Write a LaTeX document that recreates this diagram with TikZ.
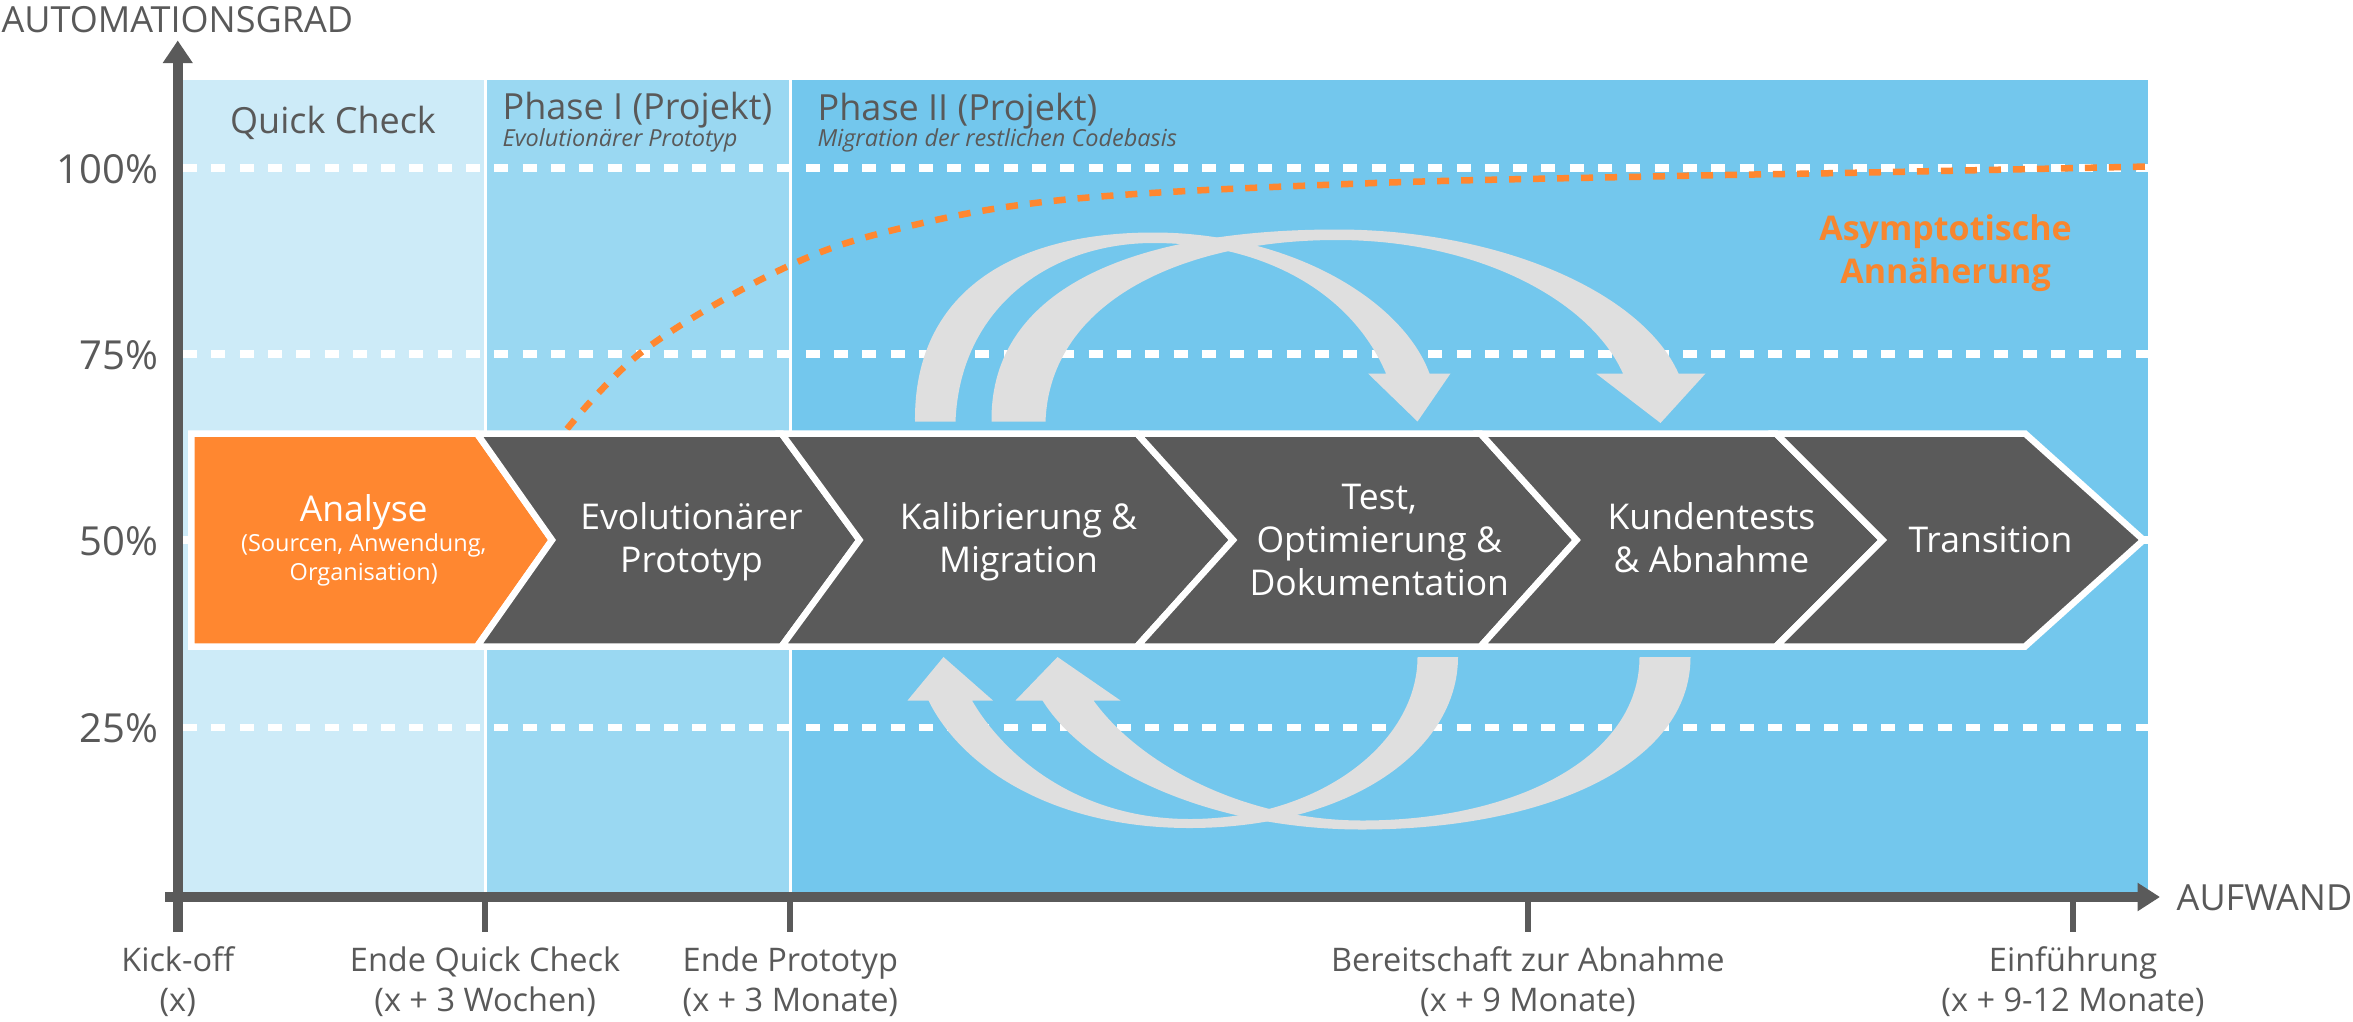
\documentclass[tikz,border=0pt]{standalone}
\usepackage{fontspec}
\setmainfont{Open Sans}
\usetikzlibrary{arrows.meta}
\definecolor{qc}{HTML}{CDEBF8}
\definecolor{pone}{HTML}{9AD8F2}
\definecolor{ptwo}{HTML}{73C7ED}
\definecolor{axisg}{HTML}{5A5A5A}
\definecolor{txtg}{HTML}{595959}
\definecolor{chev}{HTML}{5A5A5A}
\definecolor{orng}{HTML}{FF8730}
\definecolor{orngtxt}{HTML}{F7862F}
\definecolor{arrg}{HTML}{DFDFDF}
\tikzset{
  chevbox/.style={fill=chev, draw=white, line width=6.5pt, line join=miter},
  anabox/.style={fill=orng, draw=white, line width=6.5pt, line join=miter},
  gridline/.style={draw=white, line width=7.5pt, dash pattern=on 14pt off 14.3pt},
  axisline/.style={draw=axisg, line width=10pt},
  tickline/.style={draw=axisg, line width=6pt},
  curvearrow/.style={fill=arrg},
  axlbl/.style={text=txtg, font=\fontsize{36}{42}\selectfont, inner sep=0pt},
  pctlbl/.style={text=txtg, font=\fontsize{40}{46}\selectfont, inner sep=0pt, anchor=base east},
  botlbl/.style={text=txtg, font=\fontsize{32.5}{37}\selectfont, inner sep=0pt, anchor=base},
  phaselbl/.style={text=txtg, font=\fontsize{36}{41}\selectfont, inner sep=0pt},
  phasesub/.style={text=txtg, font=\itshape\fontsize{23.5}{27}\selectfont, inner sep=0pt, anchor=base west},
  chevtxt/.style={text=white, font=\fontsize{35.5}{40}\selectfont, inner sep=0pt, anchor=base},
  chevsub/.style={text=white, font=\fontsize{23.5}{27}\selectfont, inner sep=0pt, anchor=base},
  asymtxt/.style={text=orngtxt, font=\bfseries\fontsize{34}{40}\selectfont, inner sep=0pt, anchor=base},
}
\begin{document}
\begin{tikzpicture}[x=1.5pt,y=-1.5pt]
\useasboundingbox (0,0) rectangle (1568.67,681.33);

% panels
\fill[qc] (122,53.3) rectangle (323.4,598);
\fill[pone] (323.4,53.3) rectangle (526.9,598);
\fill[ptwo] (526.9,53.3) rectangle (1432,598);
\draw[white, line width=3pt] (323.4,53.3) -- (323.4,598);
\draw[white, line width=3pt] (526.9,53.3) -- (526.9,598);

% grid lines
\draw[gridline] (122,112) -- (1432,112);
\draw[gridline] (122,236) -- (1432,236);
\draw[gridline] (122,360) -- (1432,360);
\draw[gridline] (122,485) -- (1432,485);

% asymptotic curve
\draw[orng, line width=6.5pt, dash pattern=on 12pt off 12pt] plot[smooth, tension=0.6] coordinates
  {(378,286) (430,233) (520,180) (597,153) (711,133) (903,122.5) (1109,117.5) (1245,115) (1432,111)};

% upper curved arrows
\fill[curvearrow] (610,281) .. controls (609,195) and (675,155) .. (769,155)
  .. controls (860,155) and (935,200) .. (953,249) -- (967,249) -- (945,281) -- (912,249) -- (924,249)
  .. controls (902,197) and (845,162) .. (769,162)
  .. controls (700,162) and (640,205) .. (637,281) -- cycle;
\fill[curvearrow] (661,281) .. controls (660,190) and (760,153) .. (891,153)
  .. controls (1000,153) and (1095,195) .. (1119,249) -- (1137,249) -- (1107,282) -- (1064,249) -- (1082,249)
  .. controls (1060,200) and (985,160) .. (891,160)
  .. controls (790,160) and (700,200) .. (697,281) -- cycle;

% lower curved arrows
\fill[curvearrow] (972,438) .. controls (972,500) and (900,552) .. (793,552)
  .. controls (700,552) and (640,510) .. (619,467) -- (605,467) -- (629,438) -- (662,467) -- (648,467)
  .. controls (670,505) and (720,546) .. (793,546)
  .. controls (880,546) and (945,495) .. (945,438) -- cycle;
\fill[curvearrow] (1127,438) .. controls (1127,510) and (1030,553) .. (908,553)
  .. controls (810,553) and (725,515) .. (695,467) -- (677,467) -- (705,438) -- (747,467) -- (729,467)
  .. controls (760,510) and (830,547) .. (908,547)
  .. controls (1010,547) and (1093,505) .. (1093,438) -- cycle;

% chevrons
\draw[anabox] (127.5,289) -- (318,289) -- (368,360) -- (318,431) -- (127.5,431) -- cycle;
\draw[chevbox] (318,289) -- (521,289) -- (573,360) -- (521,431) -- (318,431) -- (368,360) -- cycle;
\draw[chevbox] (521,289) -- (758,289) -- (822,360) -- (758,431) -- (521,431) -- (573,360) -- cycle;
\draw[chevbox] (758,289) -- (987,289) -- (1051,360) -- (987,431) -- (758,431) -- (822,360) -- cycle;
\draw[chevbox] (987,289) -- (1184,289) -- (1255,360) -- (1184,431) -- (987,431) -- (1051,360) -- cycle;
\draw[chevbox] (1184,289) -- (1350,289) -- (1429,360) -- (1350,431) -- (1184,431) -- (1255,360) -- cycle;

% chevron texts
\node[chevtxt] (ana1) at (242.5,347.8) {Analyse};
\node[chevsub] (ana2) at (242.5,367.8) {(Sourcen, Anwendung,};
\node[chevsub] (ana3) at (242.5,386.7) {Organisation)};
\node[chevtxt] (evo1) at (461,353.3) {Evolutionärer};
\node[chevtxt] (evo2) at (461,381.8) {Prototyp};
\node[chevtxt] (kal1) at (679,352.9) {Kalibrierung \&};
\node[chevtxt] (kal2) at (679,381.8) {Migration};
\node[chevtxt] (tst1) at (919.5,339.6) {Test,};
\node[chevtxt] (tst2) at (919.5,368.4) {Optimierung \&};
\node[chevtxt] (tst3) at (919.5,396.7) {Dokumentation};
\node[chevtxt] (kun1) at (1141,353.3) {Kundentests};
\node[chevtxt] (kun2) at (1141,381.8) {\& Abnahme};
\node[chevtxt] (trn1) at (1327,368.4) {Transition};

% asymptote label
\node[asymtxt] (asy1) at (1297,160.4) {Asymptotische};
\node[asymtxt] (asy2) at (1297,188.7) {Annäherung};

% phase labels
\node[phaselbl, anchor=base] (qcl) at (222,89) {Quick Check};
\node[phaselbl, anchor=base west] (ph1) at (335,79.6) {Phase I (Projekt)};
\node[phasesub] (ph1s) at (335,97.8) {Evolutionärer Prototyp};
\node[phaselbl, anchor=base west] (ph2) at (545,80.5) {Phase II (Projekt)};
\node[phasesub] (ph2s) at (545,97.8) {Migration der restlichen Codebasis};

% percentages
\node[pctlbl] (p100) at (105.5,122) {100\%};
\node[pctlbl] (p75) at (105.5,246) {75\%};
\node[pctlbl] (p50) at (105.5,370) {50\%};
\node[pctlbl] (p25) at (105.5,495) {25\%};

% axes
\coordinate (ybot) at (118.5,621);
\coordinate (ytop) at (118.5,27);
\coordinate (xleft) at (110,598);
\coordinate (xright) at (1440,598);
\draw[axisline, -{Triangle[length=22.5pt,width=28.5pt]}] (ybot) -- (ytop);
\draw[axisline, -{Triangle[length=22.5pt,width=27pt]}] (xleft) -- (xright);
\foreach \tx in {323.4,526.9,1018.6,1382} {
  \draw[tickline] (\tx,598) -- (\tx,621);
}
\node[axlbl, anchor=base west] (ylab) at (1,21.6) {AUTOMATIONSGRAD};
\node[axlbl, anchor=base west] (xlab) at (1451,606.7) {AUFWAND};

% bottom labels
\node[botlbl] (k1) at (118.5,647.8) {Kick-off};
\node[botlbl] (k2) at (118.5,674.4) {(x)};
\node[botlbl] (q1) at (323.4,647.8) {Ende Quick Check};
\node[botlbl] (q2) at (323.4,674.4) {(x + 3 Wochen)};
\node[botlbl] (e1) at (526.9,647.8) {Ende Prototyp};
\node[botlbl] (e2) at (526.9,674.4) {(x + 3 Monate)};
\node[botlbl] (b1) at (1018.6,647.8) {Bereitschaft zur Abnahme};
\node[botlbl] (b2) at (1018.6,674.4) {(x + 9 Monate)};
\node[botlbl] (f1) at (1382,647.8) {Einführung};
\node[botlbl] (f2) at (1382,674.4) {(x + 9-12 Monate)};
\end{tikzpicture}
\end{document}
